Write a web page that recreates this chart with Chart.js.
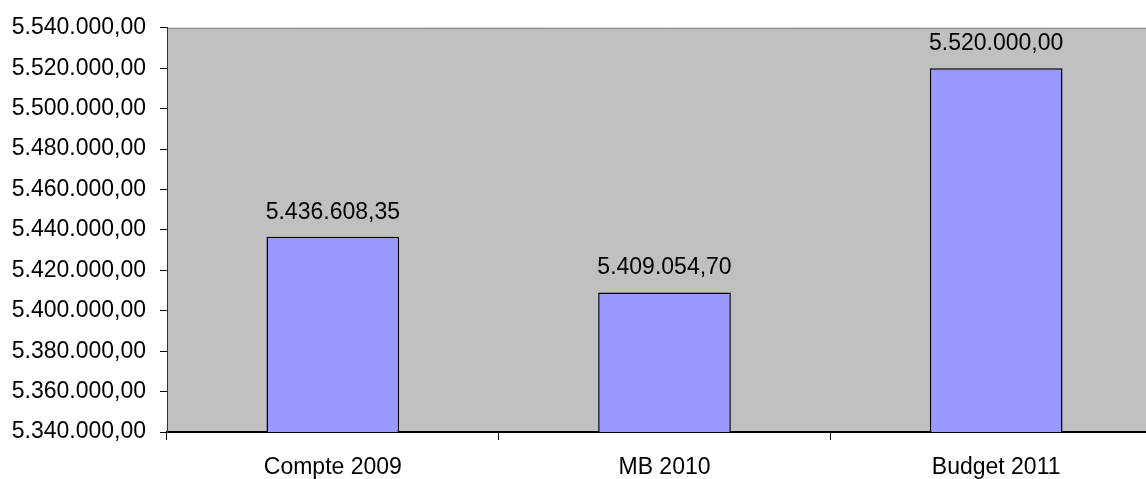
<!DOCTYPE html>
<html>
<head>
<meta charset="utf-8">
<script src="https://cdn.jsdelivr.net/npm/chart.js@4/dist/chart.umd.min.js"></script>
<style>
  html, body { margin: 0; padding: 0; background: #fff; overflow: hidden; }
  #wrap { width: 1146px; height: 479px; overflow: hidden; }
  canvas { display: block; }
</style>
</head>
<body>
<div id="wrap"><canvas id="c" width="1164" height="479"></canvas></div>
<script>
// Categories and amounts
const categories = ['Compte 2009', 'MB 2010', 'Budget 2011'];
const amounts = [5436608.35, 5409054.70, 5520000.00];

// Value axis range
const axisMin = 5340000;
const axisMax = 5540000;
const axisStep = 20000;

// 5436608.35 -> "5.436.608,35"
function formatAmount(v) {
  const fixed = Math.abs(v).toFixed(2);
  const parts = fixed.split('.');
  const intPart = parts[0].replace(/\B(?=(\d{3})+(?!\d))/g, '.');
  return (v < 0 ? '-' : '') + intPart + ',' + parts[1];
}

const FONT = { family: "'Liberation Sans', Arial, sans-serif", size: 23 };

// Grey plot background with thin frame
const plotBackground = {
  id: 'plotBackground',
  beforeDraw(chart) {
    const { ctx, chartArea: a } = chart;
    ctx.save();
    ctx.fillStyle = '#C0C0C0';
    ctx.fillRect(a.left, a.top, a.right - a.left, a.bottom - a.top);
    ctx.strokeStyle = '#808080';
    ctx.lineWidth = 1;
    ctx.beginPath();
    ctx.moveTo(a.left, a.top + 0.5);
    ctx.lineTo(a.right, a.top + 0.5);
    ctx.moveTo(a.right - 0.5, a.top);
    ctx.lineTo(a.right - 0.5, a.bottom);
    ctx.stroke();
    ctx.restore();
  }
};

// Value labels above each bar
const valueLabels = {
  id: 'valueLabels',
  afterDatasetsDraw(chart) {
    const { ctx } = chart;
    const meta = chart.getDatasetMeta(0);
    ctx.save();
    ctx.font = FONT.size + 'px ' + FONT.family;
    ctx.fillStyle = '#000';
    ctx.textAlign = 'center';
    ctx.textBaseline = 'alphabetic';
    meta.data.forEach((bar, i) => {
      ctx.fillText(formatAmount(amounts[i]), bar.x, bar.y - 18);
    });
    ctx.restore();
  }
};

new Chart(document.getElementById('c'), {
  type: 'bar',
  data: {
    labels: categories,
    datasets: [{
      data: amounts,
      backgroundColor: '#9999FF',
      borderColor: '#000000',
      borderWidth: 1.5,
      borderSkipped: false,
      barPercentage: 0.4,
      categoryPercentage: 1.0
    }]
  },
  options: {
    responsive: false,
    animation: false,
    events: [],
    layout: { padding: { top: 26, right: 2, left: 0, bottom: 0 } },
    plugins: {
      legend: { display: false },
      tooltip: { enabled: false }
    },
    scales: {
      x: {
        offset: true,
        grid: {
          offset: true,
          drawOnChartArea: false,
          drawTicks: true,
          tickLength: 8,
          color: '#000',
          lineWidth: 1
        },
        border: { display: true, color: '#000', width: 2 },
        ticks: { color: '#000', font: FONT, padding: 14, maxRotation: 0 },
        afterFit(scale) { scale.height = 47; }
      },
      y: {
        min: axisMin,
        max: axisMax,
        grid: {
          drawOnChartArea: false,
          drawTicks: true,
          tickLength: 7,
          color: '#000',
          lineWidth: 1
        },
        border: { display: true, color: '#333', width: 1 },
        ticks: {
          stepSize: axisStep,
          color: '#000',
          font: FONT,
          padding: 14,
          callback: (v) => formatAmount(v)
        },
        afterFit(scale) { scale.width = 167; }
      }
    }
  },
  plugins: [plotBackground, valueLabels]
});
</script>
</body>
</html>
